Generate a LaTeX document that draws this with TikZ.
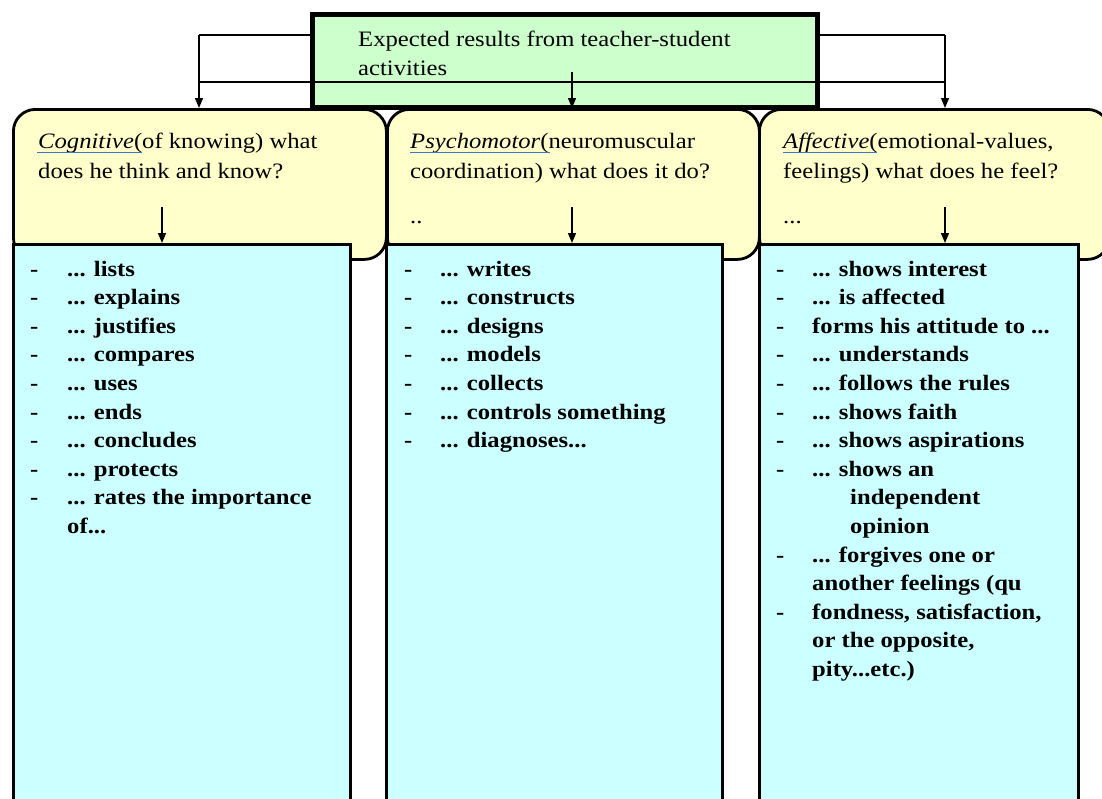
\documentclass[tikz,border=0pt]{standalone}
\usepackage{fontspec}
\setmainfont{Liberation Serif}
\usetikzlibrary{arrows.meta}
\definecolor{gfill}{HTML}{CCFFCC}
\definecolor{yfill}{HTML}{FFFFCC}
\definecolor{cfill}{HTML}{CCFFFF}
\definecolor{ulblue}{HTML}{4472C4}
\begin{document}
\begin{tikzpicture}[x=1pt,y=-1pt,
  ybox/.style={draw, fill=yfill, line width=2.8pt, rounded corners=22pt, inner sep=0, anchor=north west, minimum height=150pt},
  cbox/.style={draw, fill=cfill, line width=2.5pt, inner sep=0, anchor=north west, minimum height=580pt},
  gbox/.style={draw, fill=gfill, line width=5pt, inner sep=0, anchor=north west},
  txt/.style={inner sep=0, anchor=base west, font=\fontsize{22}{30}\selectfont, xscale=1.12, transform shape},
  btxt/.style={txt, font=\fontsize{22}{30}\selectfont\bfseries},
  arr/.style={line width=1.3pt, -{Triangle[length=10pt,width=8pt]}},
  conn/.style={line width=1.3pt},
  ul/.style={ulblue, line width=0.9pt}]
\path[use as bounding box] (0,0) rectangle (1102,798);
\clip (0,0) rectangle (1102,798);
\fill[white] (0,0) rectangle (1102,798);

% yellow category boxes
\node[ybox, minimum width=373pt] (cog) at (12,108) {};
\node[ybox, minimum width=372pt] (psy) at (386,108) {};
\node[ybox, minimum width=350pt] (aff) at (758,108) {};

% cyan list boxes
\node[cbox, minimum width=337pt] (cogl) at (12,243) {};
\node[cbox, minimum width=336pt] (psyl) at (385,243) {};
\node[cbox, minimum width=319pt] (affl) at (758,243) {};

% green top box
\node[gbox, minimum width=505pt, minimum height=93pt] (top) at (310,12) {};
\node[txt] (t1) at (358,46) {Expected results from teacher-student};
\node[txt] (t2) at (358,75) {activities};

% connectors from top box
\coordinate (lc) at (199,35);
\coordinate (rc) at (945,35);
\coordinate (hl) at (199,82);
\coordinate (hr) at (945,82);
\coordinate (ms) at (572,72);
\draw[conn] (top.west |- lc) -- (lc);
\draw[arr] (lc) -- (lc |- cog.north);
\draw[conn] (top.east |- rc) -- (rc);
\draw[arr] (rc) -- (rc |- aff.north);
\draw[conn] (hl) -- (hr);
\draw[arr] (ms) -- (ms |- psy.north);

% yellow texts
\node[txt] (c1) at (38,148) {\textit{Cognitive}(of knowing) what};
\node[txt] (c2) at (38,178) {does he think and know?};
\draw[ul] (37,152) -- (142,152);
\node[txt] (p1) at (410,148) {\textit{Psychomotor}(neuromuscular};
\node[txt] (p2) at (410,178) {coordination) what does it do?};
\node[txt] (p3) at (410,223) {..};
\draw[ul] (410,152) -- (550,152);
\node[txt] (a1) at (783,148) {\textit{Affective}(emotional-values,};
\node[txt] (a2) at (783,178) {feelings) what does he feel?};
\node[txt] (a3) at (783,223) {...};
\draw[ul] (783,152) -- (877,152);

% arrows into the lists
\coordinate (ca) at (162,207);
\coordinate (pa) at (572,207);
\coordinate (aa) at (945,207);
\draw[arr] (ca) -- (ca |- cogl.north);
\draw[arr] (pa) -- (pa |- psyl.north);
\draw[arr] (aa) -- (aa |- affl.north);

% cognitive list
\node[btxt] (cl0) at (67,276.0) {... lists};
\node[btxt] (cl1) at (67,304.6) {... explains};
\node[btxt] (cl2) at (67,333.2) {... justifies};
\node[btxt] (cl3) at (67,361.8) {... compares};
\node[btxt] (cl4) at (67,390.4) {... uses};
\node[btxt] (cl5) at (67,419.0) {... ends};
\node[btxt] (cl6) at (67,447.6) {... concludes};
\node[btxt] (cl7) at (67,476.2) {... protects};
\node[btxt] (cl8) at (67,504.8) {... rates the importance};
\node[btxt] (cl9) at (67,533.4) {of...};
\foreach \i in {0,1,2,3,4,5,6,7,8}
  \node[btxt] (cd\i) at (30,276+28.6*\i) {-};

% psychomotor list
\node[btxt] (pl0) at (440,276.0) {... writes};
\node[btxt] (pl1) at (440,304.6) {... constructs};
\node[btxt] (pl2) at (440,333.2) {... designs};
\node[btxt] (pl3) at (440,361.8) {... models};
\node[btxt] (pl4) at (440,390.4) {... collects};
\node[btxt] (pl5) at (440,419.0) {... controls something};
\node[btxt] (pl6) at (440,447.6) {... diagnoses...};
\foreach \i in {0,1,2,3,4,5,6}
  \node[btxt] (pd\i) at (404,276+28.6*\i) {-};

% affective list
\node[btxt] (al0) at (812,276.0) {... shows interest};
\node[btxt] (al1) at (812,304.6) {... is affected};
\node[btxt] (al2) at (812,333.2) {forms his attitude to ...};
\node[btxt] (al3) at (812,361.8) {... understands};
\node[btxt] (al4) at (812,390.4) {... follows the rules};
\node[btxt] (al5) at (812,419.0) {... shows faith};
\node[btxt] (al6) at (812,447.6) {... shows aspirations};
\node[btxt] (al7) at (812,476.2) {... shows an};
\node[btxt] (al8) at (850,504.8) {independent};
\node[btxt] (al9) at (850,533.4) {opinion};
\node[btxt] (al10) at (812,562.0) {... forgives one or};
\node[btxt] (al11) at (812,590.6) {another feelings (qu};
\node[btxt] (al12) at (812,619.2) {fondness, satisfaction,};
\node[btxt] (al13) at (812,647.8) {or the opposite,};
\node[btxt] (al14) at (812,676.4) {pity...etc.)};
\foreach \i in {0,1,2,3,4,5,6,7,10,12}
  \node[btxt] (ad\i) at (776,276+28.6*\i) {-};
\end{tikzpicture}
\end{document}
